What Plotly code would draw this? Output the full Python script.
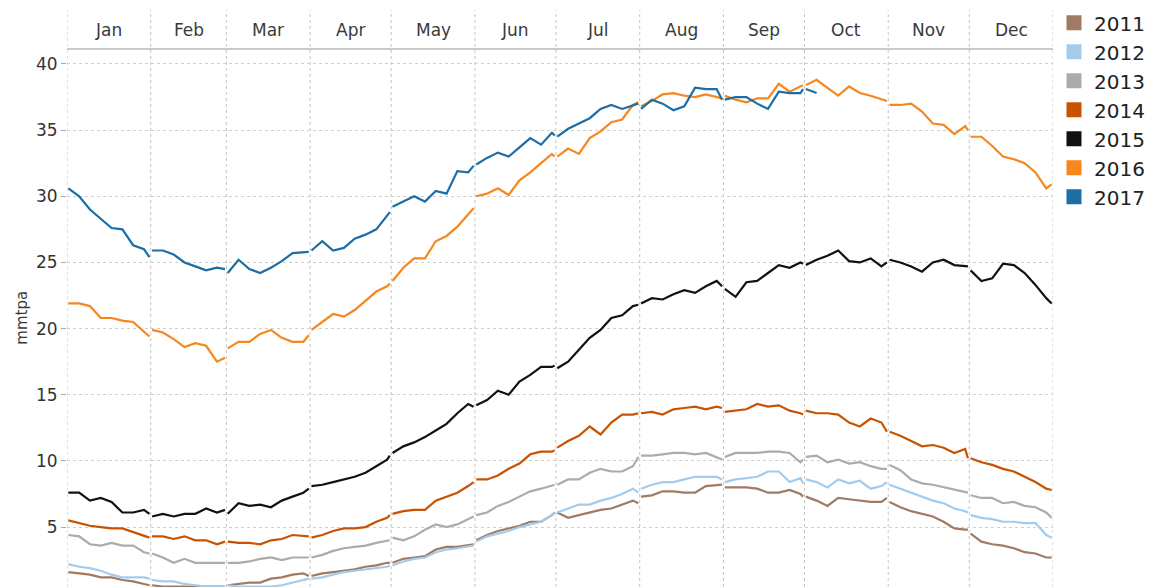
import calendar
import datetime as dt
import plotly.graph_objects as go

BASE_YEAR = 2015
month_labels = ["Jan", "Feb", "Mar", "Apr", "May", "Jun",
                "Jul", "Aug", "Sep", "Oct", "Nov", "Dec"]
sample_days = [1, 5, 9, 13, 17, 21, 25, 29]   # plus last day of month
y_ticks = [5, 10, 15, 20, 25, 30, 35, 40]
years = ["2011", "2012", "2013", "2014", "2015", "2016", "2017"]
colors = {"2011": "#a07a62", "2012": "#a4cbec", "2013": "#ababab",
          "2014": "#c85200", "2015": "#111111", "2016": "#f7861c",
          "2017": "#1b6ea6"}

y2011 = [
    [1.6, 1.5, 1.4, 1.2, 1.2, 1.0, 0.9, 0.7, 0.6],
    [0.6, 0.5, 0.5, 0.5, 0.5, 0.5, 0.5, 0.5],
    [0.6, 0.7, 0.8, 0.8, 1.1, 1.2, 1.4, 1.5, 1.3],
    [1.3, 1.5, 1.6, 1.7, 1.8, 2.0, 2.1, 2.3, 2.3],
    [2.3, 2.6, 2.7, 2.8, 3.3, 3.5, 3.5, 3.6, 3.7],
    [4.0, 4.4, 4.7, 4.9, 5.1, 5.4, 5.4, 5.9, 6.1],
    [6.1, 5.7, 5.9, 6.1, 6.3, 6.4, 6.7, 7.0, 6.8],
    [7.3, 7.4, 7.7, 7.7, 7.6, 7.6, 8.1, 8.2, 8.2],
    [8.0, 8.0, 8.0, 7.9, 7.6, 7.6, 7.8, 7.5, 7.3],
    [7.3, 7.0, 6.6, 7.2, 7.1, 7.0, 6.9, 6.9, 7.2],
    [6.9, 6.5, 6.2, 6.0, 5.8, 5.4, 4.9, 4.8, 4.8],
    [4.5, 3.9, 3.7, 3.6, 3.4, 3.1, 3.0, 2.7, 2.7],
]
y2012 = [
    [2.2, 2.0, 1.9, 1.7, 1.4, 1.2, 1.2, 1.2, 1.1],
    [1.0, 0.9, 0.9, 0.7, 0.6, 0.5, 0.5, 0.5],
    [0.6, 0.5, 0.5, 0.5, 0.5, 0.6, 0.8, 1.0, 1.1],
    [1.1, 1.2, 1.4, 1.6, 1.7, 1.8, 1.9, 2.0, 2.1],
    [2.1, 2.4, 2.6, 2.7, 3.1, 3.3, 3.4, 3.5, 3.6],
    [3.9, 4.3, 4.5, 4.7, 5.0, 5.2, 5.4, 5.9, 6.1],
    [6.1, 6.4, 6.7, 6.7, 7.0, 7.2, 7.5, 7.9, 7.6],
    [7.9, 8.2, 8.4, 8.4, 8.6, 8.8, 8.8, 8.8, 8.6],
    [8.4, 8.6, 8.7, 8.8, 9.2, 9.2, 8.4, 8.7, 8.3],
    [8.6, 8.4, 8.0, 8.6, 8.3, 8.5, 7.9, 8.1, 8.4],
    [8.2, 7.9, 7.6, 7.3, 7.0, 6.8, 6.4, 6.2, 6.1],
    [5.9, 5.7, 5.6, 5.4, 5.4, 5.3, 5.3, 4.4, 4.2],
]
y2013 = [
    [4.4, 4.3, 3.7, 3.6, 3.8, 3.6, 3.6, 3.1, 3.0],
    [3.0, 2.7, 2.3, 2.6, 2.3, 2.3, 2.3, 2.3],
    [2.3, 2.3, 2.4, 2.6, 2.7, 2.5, 2.7, 2.7, 2.7],
    [2.7, 2.9, 3.2, 3.4, 3.5, 3.6, 3.8, 4.0, 4.0],
    [4.2, 4.0, 4.3, 4.8, 5.2, 5.0, 5.2, 5.6, 5.8],
    [5.9, 6.1, 6.6, 6.9, 7.3, 7.7, 7.9, 8.1, 8.2],
    [8.2, 8.6, 8.6, 9.1, 9.4, 9.2, 9.2, 9.6, 10.3],
    [10.4, 10.4, 10.5, 10.6, 10.6, 10.5, 10.6, 10.3, 10.1],
    [10.3, 10.6, 10.6, 10.6, 10.7, 10.7, 10.6, 9.9, 10.1],
    [10.3, 10.4, 9.9, 10.1, 9.8, 9.9, 9.6, 9.4, 9.4],
    [9.7, 9.3, 8.6, 8.3, 8.2, 8.0, 7.8, 7.6, 7.6],
    [7.4, 7.2, 7.2, 6.8, 6.9, 6.6, 6.5, 6.1, 5.7],
]
y2014 = [
    [5.5, 5.3, 5.1, 5.0, 4.9, 4.9, 4.6, 4.3, 4.2],
    [4.3, 4.3, 4.1, 4.3, 4.0, 4.0, 3.7, 3.9],
    [3.9, 3.8, 3.8, 3.7, 4.0, 4.1, 4.4, 4.3, 4.3],
    [4.2, 4.4, 4.7, 4.9, 4.9, 5.0, 5.4, 5.7, 5.9],
    [6.0, 6.2, 6.3, 6.3, 7.0, 7.3, 7.6, 8.1, 8.4],
    [8.6, 8.6, 8.9, 9.4, 9.8, 10.5, 10.7, 10.7, 10.8],
    [11.0, 11.5, 11.9, 12.6, 12.0, 12.9, 13.5, 13.5, 13.6],
    [13.6, 13.7, 13.5, 13.9, 14.0, 14.1, 13.9, 14.1, 14.0],
    [13.7, 13.8, 13.9, 14.3, 14.1, 14.2, 13.8, 13.6, 13.5],
    [13.8, 13.6, 13.6, 13.5, 12.9, 12.6, 13.2, 12.9, 12.2],
    [12.2, 11.9, 11.5, 11.1, 11.2, 11.0, 10.6, 10.9, 10.2],
    [10.2, 9.9, 9.7, 9.4, 9.2, 8.8, 8.4, 7.9, 7.8],
]
y2015 = [
    [7.6, 7.6, 7.0, 7.2, 6.9, 6.1, 6.1, 6.3, 6.0],
    [5.8, 6.0, 5.8, 6.0, 6.0, 6.4, 6.1, 6.3],
    [6.0, 6.8, 6.6, 6.7, 6.5, 7.0, 7.3, 7.6, 7.9],
    [8.1, 8.2, 8.4, 8.6, 8.8, 9.1, 9.6, 10.1, 10.4],
    [10.6, 11.1, 11.4, 11.8, 12.3, 12.8, 13.6, 14.3, 14.1],
    [14.2, 14.6, 15.3, 15.0, 16.0, 16.5, 17.1, 17.1, 17.2],
    [17.0, 17.5, 18.4, 19.3, 19.9, 20.8, 21.0, 21.7, 21.8],
    [21.9, 22.3, 22.2, 22.6, 22.9, 22.7, 23.2, 23.6, 23.2],
    [23.0, 22.4, 23.5, 23.6, 24.2, 24.8, 24.6, 25.0, 24.9],
    [24.8, 25.2, 25.5, 25.9, 25.1, 25.0, 25.3, 24.7, 25.0],
    [25.2, 25.0, 24.7, 24.3, 25.0, 25.2, 24.8, 24.7, 24.7],
    [24.4, 23.6, 23.8, 24.9, 24.8, 24.2, 23.3, 22.3, 21.9],
]
y2016 = [
    [21.9, 21.9, 21.7, 20.8, 20.8, 20.6, 20.5, 19.8, 19.4],
    [19.9, 19.7, 19.2, 18.6, 18.9, 18.7, 17.5, 17.8],
    [18.5, 19.0, 19.0, 19.6, 19.9, 19.3, 19.0, 19.0, 19.5],
    [19.9, 20.5, 21.1, 20.9, 21.4, 22.1, 22.8, 23.2, 23.4],
    [23.6, 24.6, 25.3, 25.3, 26.6, 27.0, 27.7, 28.6, 29.1],
    [30.0, 30.2, 30.6, 30.1, 31.2, 31.8, 32.5, 33.2, 33.0],
    [33.0, 33.6, 33.2, 34.4, 34.9, 35.6, 35.8, 36.9, 37.1],
    [36.8, 37.2, 37.7, 37.8, 37.6, 37.5, 37.7, 37.5, 37.4],
    [37.6, 37.3, 37.1, 37.4, 37.4, 38.5, 37.9, 38.3, 38.4],
    [38.4, 38.8, 38.2, 37.6, 38.3, 37.8, 37.6, 37.3, 37.2],
    [36.9, 36.9, 37.0, 36.4, 35.5, 35.4, 34.7, 35.3, 35.0],
    [34.5, 34.5, 33.8, 33.0, 32.8, 32.5, 31.8, 30.6, 30.9],
]
y2017 = [
    [30.6, 30.0, 29.0, 28.3, 27.6, 27.5, 26.3, 26.0, 25.4],
    [25.9, 25.9, 25.6, 25.0, 24.7, 24.4, 24.6, 24.5],
    [24.2, 25.2, 24.5, 24.2, 24.6, 25.1, 25.7, 25.8, 25.8],
    [25.9, 26.6, 25.9, 26.1, 26.8, 27.1, 27.5, 28.5, 28.8],
    [29.2, 29.6, 30.0, 29.6, 30.4, 30.2, 31.9, 31.8, 32.3],
    [32.4, 32.9, 33.3, 33.0, 33.7, 34.4, 33.9, 34.8, 34.6],
    [34.5, 35.1, 35.5, 35.9, 36.6, 36.9, 36.6, 36.9, 37.0],
    [36.6, 37.3, 37.0, 36.5, 36.8, 38.2, 38.1, 38.1, 37.3],
    [37.3, 37.5, 37.5, 37.0, 36.6, 37.9, 37.8, 37.8, 38.1],
    [38.1, 37.8],
    [],
    [],
]
series = {"2011": y2011, "2012": y2012, "2013": y2013, "2014": y2014,
          "2015": y2015, "2016": y2016, "2017": y2017}

FONT = "DejaVu Sans"


def build(values_by_month):
    xs, ys = [], []
    for m, vals in enumerate(values_by_month, start=1):
        if not vals:
            continue
        last = calendar.monthrange(BASE_YEAR, m)[1]
        days = [d for d in sample_days if d < last] + [last]
        for d, v in zip(days, vals):
            xs.append(dt.datetime(BASE_YEAR, m, d))
            ys.append(v)
        xs.append(None)
        ys.append(None)
    return xs, ys


fig = go.Figure()
for yr in years:
    xs, ys = build(series[yr])
    fig.add_trace(go.Scatter(x=xs, y=ys, mode="lines", name=yr,
                             line=dict(color=colors[yr], width=2.2),
                             showlegend=False, connectgaps=False))
# square legend entries
for yr in years:
    fig.add_trace(go.Scatter(x=[None], y=[None], mode="markers", name=yr,
                             marker=dict(symbol="square", size=15, color=colors[yr]),
                             showlegend=True))

half = dt.timedelta(hours=12)
bounds = [dt.datetime(BASE_YEAR, m, 1) - half for m in range(1, 13)]
bounds.append(dt.datetime(BASE_YEAR + 1, 1, 1) - half)

HEADER_TOP = 1.0725
shapes = []
for b in bounds:
    shapes.append(dict(type="line", xref="x", yref="paper", x0=b, x1=b,
                       y0=0, y1=HEADER_TOP, layer="below",
                       line=dict(color="#c4c4c4", width=1, dash="dot")))
shapes.append(dict(type="line", xref="paper", yref="paper", x0=0, x1=1,
                   y0=1, y1=1, line=dict(color="#b8b8b8", width=1.5)))

annotations = []
for m, lab in enumerate(month_labels, start=1):
    last = calendar.monthrange(BASE_YEAR, m)[1]
    mid = dt.datetime(BASE_YEAR, m, 1) + dt.timedelta(days=(last - 1) / 2)
    annotations.append(dict(x=mid, y=1.035, xref="x", yref="paper",
                            text=lab, showarrow=False,
                            font=dict(family=FONT, size=17, color="#3a3a3a"),
                            xanchor="center", yanchor="middle"))
annotations.append(dict(x=-0.046, y=0.5, xref="paper", yref="paper",
                        xanchor="center", yanchor="middle", textangle=-90,
                        text="mmtpa", showarrow=False,
                        font=dict(family=FONT, size=15, color="#3a3a3a")))

fig.update_layout(
    width=1149, height=579,
    margin=dict(l=59, r=104, t=41, b=0, autoexpand=False),
    paper_bgcolor="white", plot_bgcolor="white",
    font=dict(family=FONT, color="#333333"),
    shapes=shapes, annotations=annotations,
    legend=dict(x=1.001, y=0.887, xanchor="left", yanchor="middle",
                font=dict(family=FONT, size=20, color="#222222"),
                itemsizing="trace", tracegroupgap=0,
                bgcolor="rgba(0,0,0,0)"),
    xaxis=dict(type="date", range=[bounds[0], bounds[-1]], automargin=False,
               showgrid=False, showticklabels=False, zeroline=False,
               showline=False, ticks=""),
    yaxis=dict(range=[0.47, 41.13], tickvals=y_ticks, automargin=False,
               showgrid=True, gridcolor="#cfcfcf", griddash="dot", gridwidth=1,
               zeroline=False, showline=False,
               ticks="outside", ticklen=5, tickcolor="#aaaaaa",
               tickfont=dict(family=FONT, size=17, color="#333333")),
)

fig.write_html("out.html")
